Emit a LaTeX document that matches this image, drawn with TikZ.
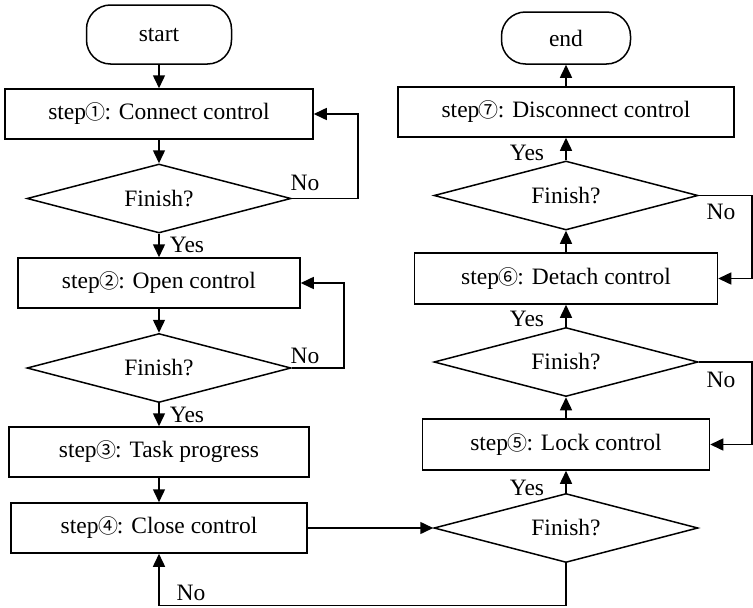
\documentclass[tikz,border=0pt]{standalone}
\usepackage{fontspec}
\setmainfont{Liberation Serif}
\newfontfamily\circfont{Noto Sans CJK SC}
\usetikzlibrary{shapes.geometric,arrows.meta}
\newcommand{\cdig}[1]{\kern-0.5pt{\circfont\scalebox{0.85}{#1}}\kern-1pt}
\begin{document}
\begin{tikzpicture}[x=1pt,y=-1pt,
  every node/.style={font=\fontsize{23.5}{28}\selectfont},
  base/.style={draw=black, line width=1.5pt, inner sep=0pt, fill=white},
  terminal/.style={base, rectangle, rounded corners=24pt},
  stepbox/.style={base, rectangle, minimum height=50pt},
  decision/.style={base, diamond, aspect=3.8, minimum width=264pt, minimum height=69pt},
  arr/.style={line width=1.5pt, -{Triangle[length=13pt,width=12pt]}},
  lbl/.style={inner sep=0pt}]
\useasboundingbox (0,0) rectangle (753,608);

% left column
\node[terminal, minimum width=145pt, minimum height=59pt] (start) at (159,34.5) {start};
\node[stepbox, minimum width=308pt] (b1) at (159,114) {step\cdig{①}: Connect control};
\node[decision] (d1) at (159,198.5) {Finish?};
\node[stepbox, minimum width=282pt] (b2) at (159,283) {step\cdig{②}: Open control};
\node[decision] (d2) at (159,368) {Finish?};
\node[stepbox, minimum width=300pt] (b3) at (159,452) {step\cdig{③}: Task progress};
\node[stepbox, minimum width=296pt] (b4) at (159,528) {step\cdig{④}: Close control};

% right column
\node[terminal, minimum width=129pt, minimum height=52pt] (end) at (566,38) {end};
\node[stepbox, minimum width=336pt] (b7) at (566,112) {step\cdig{⑦}: Disconnect control};
\node[decision] (d3) at (566,195.5) {Finish?};
\node[stepbox, minimum width=303pt, minimum height=51pt] (b6) at (566,278.5) {step\cdig{⑥}: Detach control};
\node[decision] (d4) at (566,362) {Finish?};
\node[stepbox, minimum width=287pt, minimum height=51pt] (b5) at (566,444.5) {step\cdig{⑤}: Lock control};
\node[decision] (d5) at (566,528) {Finish?};

% left column flow
\draw[arr] (start) -- (b1);
\draw[arr] (b1) -- (d1);
\draw[arr] (d1) -- (b2);
\draw[arr] (d1.east) -- ++(66,0) |- (b1.east);
\draw[arr] (b2) -- (d2);
\draw[arr] (d2) -- (b3);
\draw[arr] (d2.east) -- ++(52,0) |- (b2.east);
\draw[arr] (b3) -- (b4);

% crossing to the right column
\draw[arr] (b4.east) -- (d5.west);
\draw[arr] (d5.south) -- ++(0,42) -| (b4.south);

% right column flow
\draw[arr] (d5) -- (b5);
\draw[arr] (b5) -- (d4);
\draw[arr] (d4.east) -- ++(53,0) |- (b5.east);
\draw[arr] (d4) -- (b6);
\draw[arr] (b6) -- (d3);
\draw[arr] (d3.east) -- ++(53,0) |- (b6.east);
\draw[arr] (d3) -- (b7);
\draw[arr] (b7) -- (end);

% branch labels
\node[lbl] (y1) at (187,245) {Yes};
\node[lbl] (n1) at (305,183) {No};
\node[lbl] (y2) at (187,415) {Yes};
\node[lbl] (n2) at (305,356) {No};
\node[lbl] (n5) at (191,593) {No};
\node[lbl] (y5) at (527,488) {Yes};
\node[lbl] (y4) at (527,319) {Yes};
\node[lbl] (n4) at (721,380) {No};
\node[lbl] (y3) at (527,153) {Yes};
\node[lbl] (n3) at (721,212) {No};
\end{tikzpicture}
\end{document}
